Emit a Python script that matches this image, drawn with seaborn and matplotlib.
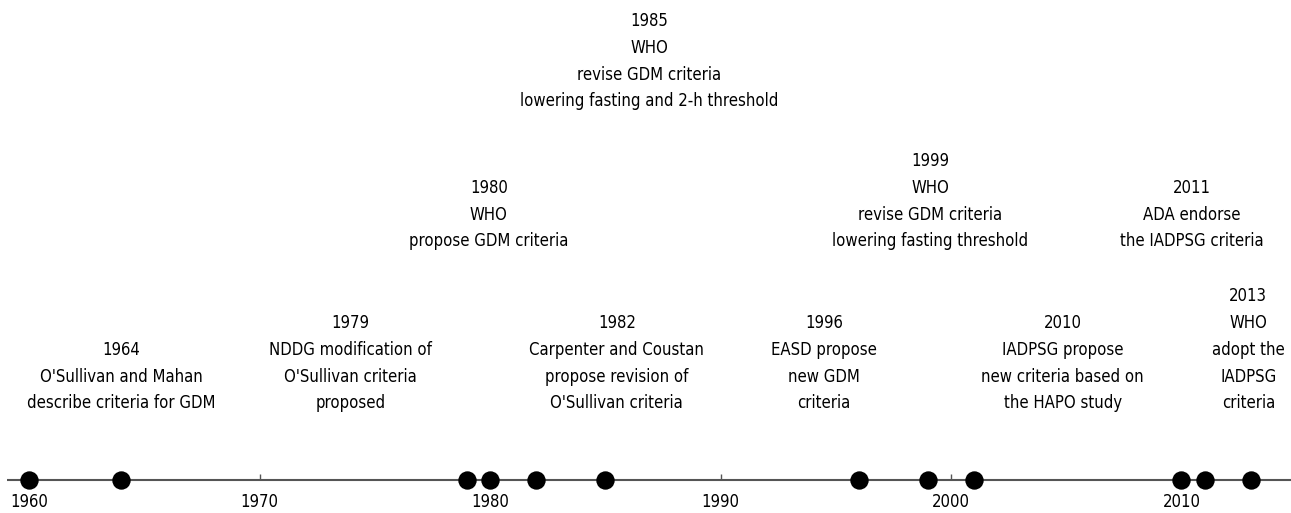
import matplotlib
matplotlib.use("Agg")
import matplotlib.pyplot as plt
import seaborn as sns
import pandas as pd

# ---------------- data ----------------
dot_years = [1960, 1964, 1979, 1980, 1982, 1985, 1996, 1999, 2001, 2010, 2011, 2013]
event_years = [1964, 1979, 1980, 1982, 1985, 1996, 1999, 2010, 2011, 2013]
event_texts = [
    "O'Sullivan and Mahan\ndescribe criteria for GDM",
    "NDDG modification of\nO'Sullivan criteria\nproposed",
    "WHO\npropose GDM criteria",
    "Carpenter and Coustan\npropose revision of\nO'Sullivan criteria",
    "WHO\nrevise GDM criteria\nlowering fasting and 2-h threshold",
    "EASD propose\nnew GDM\ncriteria",
    "WHO\nrevise GDM criteria\nlowering fasting threshold",
    "IADPSG propose\nnew criteria based on\nthe HAPO study",
    "ADA endorse\nthe IADPSG criteria",
    "WHO\nadopt the\nIADPSG\ncriteria",
]
tick_years = [1960, 1970, 1980, 1990, 2000, 2010]

# ---------------- layout ----------------
label_x = [1964.0, 1973.95, 1979.95, 1985.5, 1986.9, 1994.5, 1999.1, 2004.85, 2010.45, 2012.9]
label_tier = [0, 0, 1, 0, 2, 0, 1, 0, 1, 0]
tier_bottom = {0: 402, 1: 240, 2: 100}   # pixel row of last line centre
LINE_STEP = 26.8
FS = 12
AXIS_Y = 480

sns.set_theme(style="white")
plt.rcParams["font.family"] = ["DejaVu Sans"]

W, H = 1291, 513
fig = plt.figure(figsize=(W / 100, H / 100), dpi=100)
ax = fig.add_axes([0, 0, 1, 1])

PX = 23.05  # pixels per year
x0 = 1960 - 29 / PX
x1 = 1960 + (W - 29) / PX
axis_start = 1960 - 22 / PX

ax.hlines(AXIS_Y, axis_start, x1, color="#555555", lw=1.5, zorder=1)
for t in tick_years:
    ax.vlines(t, AXIS_Y - 6, AXIS_Y, color="#555555", lw=1, zorder=1)
    ax.text(t, AXIS_Y + 27, str(t), ha="center", va="baseline", fontsize=FS,
            fontstretch="condensed", color="black")

df = pd.DataFrame({"year": dot_years, "y": [AXIS_Y] * len(dot_years)})
sns.scatterplot(data=df, x="year", y="y", s=175, color="black", edgecolor="black",
                linewidth=0, ax=ax, zorder=3, legend=False)

for yr, txt, lx, tier in zip(event_years, event_texts, label_x, label_tier):
    lines = [str(yr)] + txt.split("\n")
    n = len(lines)
    for i, line in enumerate(lines):
        yc = tier_bottom[tier] - (n - 1 - i) * LINE_STEP
        ax.text(lx, yc + 6.3, line, ha="center", va="baseline", fontsize=FS,
                fontstretch="condensed", color="black")

ax.set_xlim(x0, x1)
ax.set_ylim(H, 0)
ax.axis("off")
fig.savefig("out.png", dpi=100, facecolor="white")
